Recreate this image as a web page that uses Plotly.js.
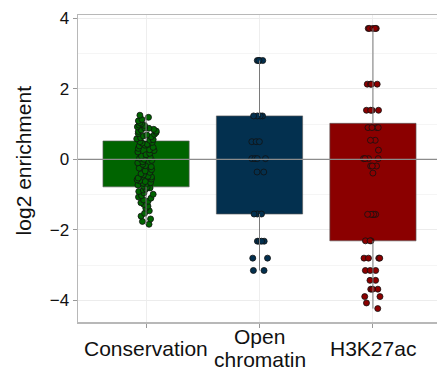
<!DOCTYPE html>
<html>
<head>
<meta charset="utf-8">
<script src="https://cdn.plot.ly/plotly-3.0.1.min.js"></script>
<style>
  html, body { margin: 0; padding: 0; background: #ffffff; overflow: hidden; }
  #chart { width: 441px; height: 370px; }
</style>
</head>
<body>
<div id="chart"></div>
<script>
// Categories and the lines of their axis labels
const categories = ['Conservation', 'Open chromatin', 'H3K27ac'];
const labelLines = [['Conservation'], ['Open', 'chromatin'], ['H3K27ac']];

// Lower and upper hinges of each box
const q1 = [-0.78, -1.55, -2.31];
const q3 = [0.52, 1.23, 1.02];

// Per-element log2 enrichment values
const conservation = [
  1.25, 1.19, 1.13, 1.09, 1.04, 1.01, 0.97, 0.96, 0.92, 0.89, 0.88, 0.85,
  0.83, 0.8, 0.79, 0.76, 0.73, 0.71, 0.69, 0.66, 0.64, 0.61, 0.58, 0.56,
  0.54, 0.5, 0.48, 0.46, 0.43, 0.4, 0.38, 0.34, 0.31, 0.27, 0.25, 0.21,
  0.17, 0.13, 0.09, 0.06, 0.03, 0.0, -0.03, -0.07, -0.1, -0.14, -0.18,
  -0.21, -0.25, -0.29, -0.33, -0.37, -0.41, -0.44, -0.48, -0.5, -0.53,
  -0.56, -0.58, -0.61, -0.63, -0.66, -0.68, -0.71, -0.73, -0.76, -0.79,
  -0.81, -0.84, -0.87, -0.91, -0.95, -0.99, -1.03, -1.07, -1.1, -1.15,
  -1.19, -1.23, -1.28, -1.33, -1.39, -1.46, -1.53, -1.61, -1.69, -1.76, -1.84
];
const openChromatin = [
  2.8, 2.8, 2.8, 2.8, 1.23, 1.23, 1.23, 1.23, 0.5, 0.5, 0.5,
  0.02, 0.02, 0.02, 0.02, -0.36, -0.36, -1.55, -1.55, -1.55,
  -2.32, -2.32, -2.32, -2.32, -2.8, -2.8, -3.15, -3.15
];
const h3k27ac = [
  3.71, 3.71, 3.71, 3.71, 3.71, 2.13, 2.13, 2.13, 2.13, 1.39, 1.39, 1.39, 1.39,
  0.9, 0.9, 0.9, 0.9, 0.54, 0.54, 0.26, 0.02, 0.02, 0.02, 0.02,
  -0.19, -0.19, -0.19, -0.39, -1.56, -1.56, -1.56, -1.56, -1.56,
  -2.31, -2.31, -2.31, -2.8, -2.8, -2.8, -2.8, -3.15, -3.15, -3.15,
  -3.43, -3.43, -3.68, -3.68, -3.68, -3.89, -3.89, -4.07, -4.23
];

const samples = [conservation, openChromatin, h3k27ac];
const colors = ['#006400', '#03304f', '#8b0000'];
const boxWidth = 0.76;
const textColor = '#111111';
const fontFamily = 'Liberation Sans, Arial, sans-serif';

const traces = [];

// Filled boxes spanning the hinges
traces.push({
  type: 'bar',
  x: categories,
  base: q1,
  y: q3.map((v, i) => v - q1[i]),
  width: boxWidth,
  marker: { color: colors, line: { color: 'rgba(90,90,90,0.8)', width: 0.8 } },
  hoverinfo: 'skip',
  showlegend: false
});

// Jittered points (box outline hidden, only the points are shown)
samples.forEach((vals, i) => {
  traces.push({
    type: 'box',
    x: vals.map(() => categories[i]),
    y: vals,
    width: boxWidth,
    boxpoints: 'all',
    jitter: 0.24,
    pointpos: 0,
    fillcolor: 'rgba(0,0,0,0)',
    line: { width: 0, color: 'rgba(0,0,0,0)' },
    marker: { color: colors[i], size: 6, line: { color: '#111111', width: 0.8 } },
    hoverinfo: 'y',
    showlegend: false
  });
});

// Whiskers from the hinges to the extreme values
samples.forEach((vals, i) => {
  const lo = Math.min(...vals), hi = Math.max(...vals);
  traces.push({
    type: 'scatter',
    mode: 'lines',
    x: [categories[i], categories[i], null, categories[i], categories[i]],
    y: [hi, q3[i], null, q1[i], lo],
    line: { color: '#7a7a7a', width: 1 },
    hoverinfo: 'skip',
    showlegend: false
  });
});

// Category labels: single lines sit mid-block, two-line labels are stacked
// around the same centre with a slightly tight leading
const lineGap = 0.075;   // paper units between stacked lines
const labelCentre = -0.087;
const labelAnnotations = [];
categories.forEach((c, i) => {
  const lines = labelLines[i];
  lines.forEach((t, k) => {
    const offset = (k - (lines.length - 1) / 2) * lineGap;
    labelAnnotations.push({
      xref: 'x', yref: 'paper',
      x: c, y: labelCentre - offset + (lines.length > 1 ? 0.001 : 0),
      xanchor: 'center', yanchor: 'middle',
      text: t,
      showarrow: false,
      font: { family: fontFamily, size: 21, color: textColor }
    });
  });
});

const layout = {
  width: 441,
  height: 370,
  margin: { l: 78, r: 0, t: 15, b: 48 },
  paper_bgcolor: '#ffffff',
  plot_bgcolor: '#ffffff',
  barmode: 'overlay',
  boxmode: 'overlay',
  showlegend: false,
  font: { family: fontFamily, color: textColor },
  xaxis: {
    type: 'category',
    categoryorder: 'array',
    categoryarray: categories,
    tickvals: categories,
    showticklabels: false,
    range: [-0.6, 2.6],
    showgrid: true,
    gridcolor: '#eeeeee',
    gridwidth: 1,
    showline: true,
    mirror: true,
    linecolor: '#b8b8b8',
    linewidth: 1.5,
    ticks: 'outside',
    ticklen: 4,
    tickcolor: '#999999',
    zeroline: false
  },
  yaxis: {
    range: [-4.61, 4.09],
    tickvals: [-4, -2, 0, 2, 4],
    ticktext: ['\u22124', '\u22122', '0', '2', '4'],
    tickfont: { size: 17, color: textColor },
    showgrid: true,
    gridcolor: '#ececec',
    gridwidth: 1,
    minor: { dtick: 1, tick0: 1, showgrid: true, gridcolor: '#f5f5f5', gridwidth: 1 },
    showline: true,
    mirror: true,
    linecolor: '#b8b8b8',
    linewidth: 1.5,
    ticks: 'outside',
    ticklen: 4,
    tickcolor: '#999999',
    zeroline: false
  },
  annotations: labelAnnotations.concat([
    {
      // y-axis title
      xref: 'paper', yref: 'paper',
      x: -0.15, y: 0.525,
      xanchor: 'center', yanchor: 'middle',
      textangle: -90,
      text: 'log2 enrichment',
      showarrow: false,
      font: { family: fontFamily, size: 21, color: textColor }
    }
  ]),
  shapes: [
    // Reference line at zero, drawn over the boxes
    {
      type: 'line', xref: 'paper', yref: 'y',
      x0: 0, x1: 1, y0: 0, y1: 0,
      line: { color: '#8c8c8c', width: 1.2 },
      layer: 'above'
    }
  ]
};

Plotly.newPlot('chart', traces, layout, { displayModeBar: false, staticPlot: true });
</script>
</body>
</html>
